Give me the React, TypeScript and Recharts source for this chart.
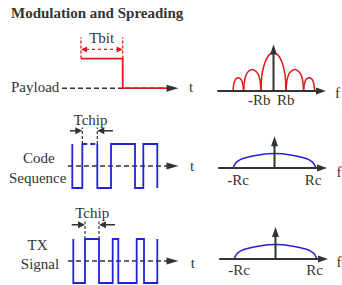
import React from "react";
import { ComposedChart, Line, Scatter, XAxis, YAxis } from "recharts";

// ---------------- time-domain data ----------------
const payloadEdges = [0.9, 5.07, 9.4];
const payloadLevels = [1, 1, 0, 0];
const tbitMarks = [0.9, 5.07];

const codeEdges = [0.03, 1.03, 2.53, 3.9, 6.3, 7.13, 8.53];
const codeLevels = [1, -1, 1, -1, 1, -1, 1, -1];
const codeDashedLevel = 2;
const codeTchipMarks = [1.03, 2.53];

const txEdges = [0.13, 1.3, 2.7, 4.07, 4.63, 6.47, 7.2, 8.53];
const txLevels = [1, -1, 1, -1, 1, -1, 1, -1, 1];
const txTchipMarks = [1.3, 2.7];

const timeAxisTip = 10.65;
const payloadAxisStart = -1.0;
const codeAxisStart = -0.4;
const txAxisStart = -0.4;

// ---------------- spectra ----------------
const lobeOuterLeft: [number, number][] = [
  [-3.24, 0], [-3.2, 0.55], [-3.12, 0.95], [-3.0, 1.22], [-2.82, 1.33],
  [-2.64, 1.22], [-2.52, 0.95], [-2.44, 0.55], [-2.39, 0],
];
const lobeSideLeft: [number, number][] = [
  [-2.39, 0], [-2.33, 0.9], [-2.22, 1.5], [-2.05, 1.9], [-1.7, 2.16],
  [-1.35, 1.9], [-1.17, 1.5], [-1.06, 0.9], [-1.0, 0],
];
const lobeMain: [number, number][] = [
  [-1, 0], [-0.95, 1.3], [-0.85, 2.1], [-0.7, 2.8], [-0.45, 3.45], [0, 3.83],
  [0.45, 3.45], [0.7, 2.8], [0.85, 2.1], [0.95, 1.3], [1, 0],
];
const lobeSideRight: [number, number][] = [
  [1.0, 0], [1.06, 0.9], [1.17, 1.5], [1.35, 1.9], [1.7, 2.16],
  [2.05, 1.9], [2.24, 1.5], [2.35, 0.9], [2.41, 0],
];
const lobeOuterRight: [number, number][] = [
  [2.41, 0], [2.45, 0.55], [2.53, 0.95], [2.66, 1.22], [2.85, 1.33],
  [3.04, 1.22], [3.17, 0.95], [3.25, 0.55], [3.29, 0],
];
const spreadArc: [number, number][] = [
  [-3.32, 0], [-3.14, 0.43], [-2.74, 0.83], [-2.08, 1.1], [-1.28, 1.3], [0, 1.44],
  [1.28, 1.3], [2.08, 1.1], [2.74, 0.83], [3.14, 0.43], [3.32, 0],
];
const freqAxisStart = -4.5;
const freqAxisTip = 4.2;
const payloadSpecTop = 4.66;
const codeSpecTop = 3.17;
const txSpecTop = 3.2;

const payloadFreqTicks = ["-Rb", "Rb"];
const chipFreqTicks = ["-Rc", "Rc"];

// ---------------- styles ----------------
const INK = "#333333";
const RED = "#e01818";
const BLUE = "#2222d8";
const FONT = "'Liberation Serif', 'Times New Roman', serif";

type Pt = { x: number; y: number };

const toPts = (arr: [number, number][]): Pt[] => arr.map(([x, y]) => ({ x, y }));

function stepPoints(edges: number[], levels: number[]): Pt[] {
  const pts: Pt[] = [];
  edges.forEach((e, i) => {
    pts.push({ x: e, y: levels[i] });
    pts.push({ x: e, y: levels[i + 1] });
  });
  return pts;
}

function arrowShape(dir: "left" | "right" | "up", len: number, half: number, color: string) {
  return (props: any) => {
    const { cx, cy } = props;
    if (cx == null || cy == null) return <g />;
    let pts = "";
    if (dir === "right") pts = `${cx},${cy} ${cx - len},${cy - half} ${cx - len},${cy + half}`;
    else if (dir === "left") pts = `${cx},${cy} ${cx + len},${cy - half} ${cx + len},${cy + half}`;
    else pts = `${cx},${cy} ${cx - half},${cy + len} ${cx + half},${cy + len}`;
    return <polygon points={pts} fill={color} stroke="none" />;
  };
}

function seg(key: string, data: Pt[], color: string, width: number, dash?: string, smooth?: boolean) {
  return (
    <Line
      key={key}
      data={data}
      dataKey="y"
      type={smooth ? "monotone" : "linear"}
      stroke={color}
      strokeWidth={width}
      strokeDasharray={dash}
      dot={false}
      activeDot={false}
      isAnimationActive={false}
      legendType="none"
    />
  );
}

function arrows(key: string, data: Pt[], dir: "left" | "right" | "up", len: number, half: number, color: string) {
  return (
    <Scatter
      key={key}
      data={data}
      shape={arrowShape(dir, len, half, color)}
      isAnimationActive={false}
      legendType="none"
    />
  );
}

function Panel(props: {
  left: number; top: number; width: number; height: number;
  xDomain: [number, number]; yDomain: [number, number]; children: React.ReactNode;
}) {
  const { left, top, width, height, xDomain, yDomain, children } = props;
  return (
    <div style={{ position: "absolute", left, top, width, height }}>
      <ComposedChart width={width} height={height} margin={{ top: 0, right: 0, bottom: 0, left: 0 }}>
        <XAxis type="number" dataKey="x" domain={xDomain} hide allowDataOverflow />
        <YAxis type="number" dataKey="y" domain={yDomain} hide allowDataOverflow />
        {children}
      </ComposedChart>
    </div>
  );
}

const TIME_DOMAIN: [number, number] = [-1.2, 11.8];
const FREQ_DOMAIN: [number, number] = [-5.4, 5.4];

function timeAxis(start: number) {
  return [
    seg("axis", [{ x: start, y: 0 }, { x: timeAxisTip - 0.6, y: 0 }], INK, 1.5, "5 3"),
    arrows("axisArrow", [{ x: timeAxisTip, y: 0 }], "right", 12, 3.5, INK),
  ];
}

function tchip(marks: number[], markTop: number, arrowY: number, leftTail: number, rightTail: number) {
  return [
    seg("m0", [{ x: marks[0], y: 1 }, { x: marks[0], y: markTop }], INK, 1.2, "3 2"),
    seg("m1", [{ x: marks[1], y: 1 }, { x: marks[1], y: markTop }], INK, 1.2, "3 2"),
    seg("al", [{ x: leftTail, y: arrowY }, { x: marks[0] - 0.4, y: arrowY }], INK, 1.5),
    seg("ar", [{ x: marks[1] + 0.4, y: arrowY }, { x: rightTail, y: arrowY }], INK, 1.5),
    arrows("hl", [{ x: marks[0], y: arrowY }], "right", 7, 3.5, INK),
    arrows("hr", [{ x: marks[1], y: arrowY }], "left", 7, 3.5, INK),
  ];
}

function specAxes(top: number) {
  return [
    seg("fx", [{ x: freqAxisStart, y: 0 }, { x: freqAxisTip - 0.5, y: 0 }], INK, 2),
    arrows("fxa", [{ x: freqAxisTip, y: 0 }], "right", 10, 3.5, INK),
    seg("fy", [{ x: 0, y: 0 }, { x: 0, y: top - 0.6 }], INK, 2),
    arrows("fya", [{ x: 0, y: top }], "up", 10, 3.5, INK),
  ];
}

export default function App() {
  const payloadPts = stepPoints(payloadEdges, payloadLevels);
  const codePts = stepPoints(codeEdges, codeLevels);
  const a = 2 * (codeDashedLevel - 1) + 1;
  const b = 2 * codeDashedLevel;
  const codeSolid1 = codePts.slice(0, a + 1);
  const codeDashed = codePts.slice(a, b + 1);
  const codeSolid2 = codePts.slice(b);
  const txPts = stepPoints(txEdges, txLevels);

  return (
    <div style={{ position: "absolute", left: 0, top: 0, width: 342, height: 285, overflow: "hidden", background: "#fff" }}>
      {/* Payload time panel */}
      <Panel left={60} top={29} width={130} height={74} xDomain={TIME_DOMAIN} yDomain={[-0.5, 2.0]}>
        {timeAxis(payloadAxisStart)}
        {seg("tb0", [{ x: tbitMarks[0], y: 1 }, { x: tbitMarks[0], y: 1.72 }], RED, 1.3, "3 2")}
        {seg("tb1", [{ x: tbitMarks[1], y: 1 }, { x: tbitMarks[1], y: 1.72 }], RED, 1.3, "3 2")}
        {seg("tba", [{ x: tbitMarks[0] + 0.5, y: 1.31 }, { x: tbitMarks[1] - 0.5, y: 1.31 }], RED, 1.3, "3 3")}
        {arrows("tbl", [{ x: tbitMarks[0], y: 1.31 }], "left", 6, 3, RED)}
        {arrows("tbr", [{ x: tbitMarks[1], y: 1.31 }], "right", 6, 3, RED)}
        {seg("payload", payloadPts, RED, 1.8)}
      </Panel>

      {/* Code time panel */}
      <Panel left={60} top={110.6} width={130} height={88} xDomain={TIME_DOMAIN} yDomain={[-1.5, 2.5]}>
        {timeAxis(codeAxisStart)}
        {tchip(codeTchipMarks, 1.75, 1.6, -0.2, 4.1)}
        {seg("c1", codeSolid1, BLUE, 1.8)}
        {seg("cd", codeDashed, BLUE, 1.8, "5 3")}
        {seg("c2", codeSolid2, BLUE, 1.8)}
      </Panel>

      {/* TX time panel */}
      <Panel left={60} top={205.5} width={130} height={81.4} xDomain={TIME_DOMAIN} yDomain={[-1.2, 2.5]}>
        {timeAxis(txAxisStart)}
        {tchip(txTchipMarks, 1.8, 1.65, -0.03, 4.3)}
        {seg("tx", txPts, BLUE, 1.8)}
      </Panel>

      {/* Payload spectrum */}
      <Panel left={205.8} top={36.3} width={135} height={65} xDomain={FREQ_DOMAIN} yDomain={[-1, 5.5]}>
        {seg("l1", toPts(lobeOuterLeft), RED, 1.5, undefined, true)}
        {seg("l2", toPts(lobeSideLeft), RED, 1.5, undefined, true)}
        {seg("l3", toPts(lobeMain), RED, 1.5, undefined, true)}
        {seg("l4", toPts(lobeSideRight), RED, 1.5, undefined, true)}
        {seg("l5", toPts(lobeOuterRight), RED, 1.5, undefined, true)}
        {specAxes(payloadSpecTop)}
      </Panel>

      {/* Code spectrum */}
      <Panel left={206.8} top={132.7} width={135} height={45} xDomain={FREQ_DOMAIN} yDomain={[-1, 3.5]}>
        {seg("arc", toPts(spreadArc), BLUE, 1.5, undefined, true)}
        {specAxes(codeSpecTop)}
      </Panel>

      {/* TX spectrum */}
      <Panel left={208} top={224.3} width={135} height={45} xDomain={FREQ_DOMAIN} yDomain={[-1, 3.5]}>
        {seg("arc", toPts(spreadArc), BLUE, 1.5, undefined, true)}
        {specAxes(txSpecTop)}
      </Panel>

      {/* Text labels */}
      <svg width={342} height={285} style={{ position: "absolute", left: 0, top: 0, pointerEvents: "none" }}
        fontFamily={FONT} fontSize={15} fill={INK}>
        <text x={11} y={17.5} fontWeight="bold">Modulation and Spreading</text>

        <text x={11} y={91.5}>Payload</text>
        <text x={189} y={91.7}>t</text>
        <text x={101.7} y={43.3} textAnchor="middle">Tbit</text>

        <text x={38.8} y={163.3} textAnchor="middle">Code</text>
        <text x={37.7} y={182.7} textAnchor="middle">Sequence</text>
        <text x={190} y={170.5}>t</text>
        <text x={90.5} y={124.5} textAnchor="middle">Tchip</text>

        <text x={37.5} y={250} textAnchor="middle">TX</text>
        <text x={40} y={269} textAnchor="middle">Signal</text>
        <text x={190.7} y={268}>t</text>
        <text x={92.2} y={218.3} textAnchor="middle">Tchip</text>

        <text x={259.2} y={104.7} textAnchor="middle">{payloadFreqTicks[0]}</text>
        <text x={285.7} y={104.7} textAnchor="middle">{payloadFreqTicks[1]}</text>
        <text x={335} y={98}>f</text>

        <text x={238} y={185} textAnchor="middle">{chipFreqTicks[0]}</text>
        <text x={313} y={185} textAnchor="middle">{chipFreqTicks[1]}</text>
        <text x={336.5} y={176.5}>f</text>

        <text x={239} y={275} textAnchor="middle">{chipFreqTicks[0]}</text>
        <text x={314.5} y={275} textAnchor="middle">{chipFreqTicks[1]}</text>
        <text x={336.5} y={267}>f</text>
      </svg>
    </div>
  );
}
